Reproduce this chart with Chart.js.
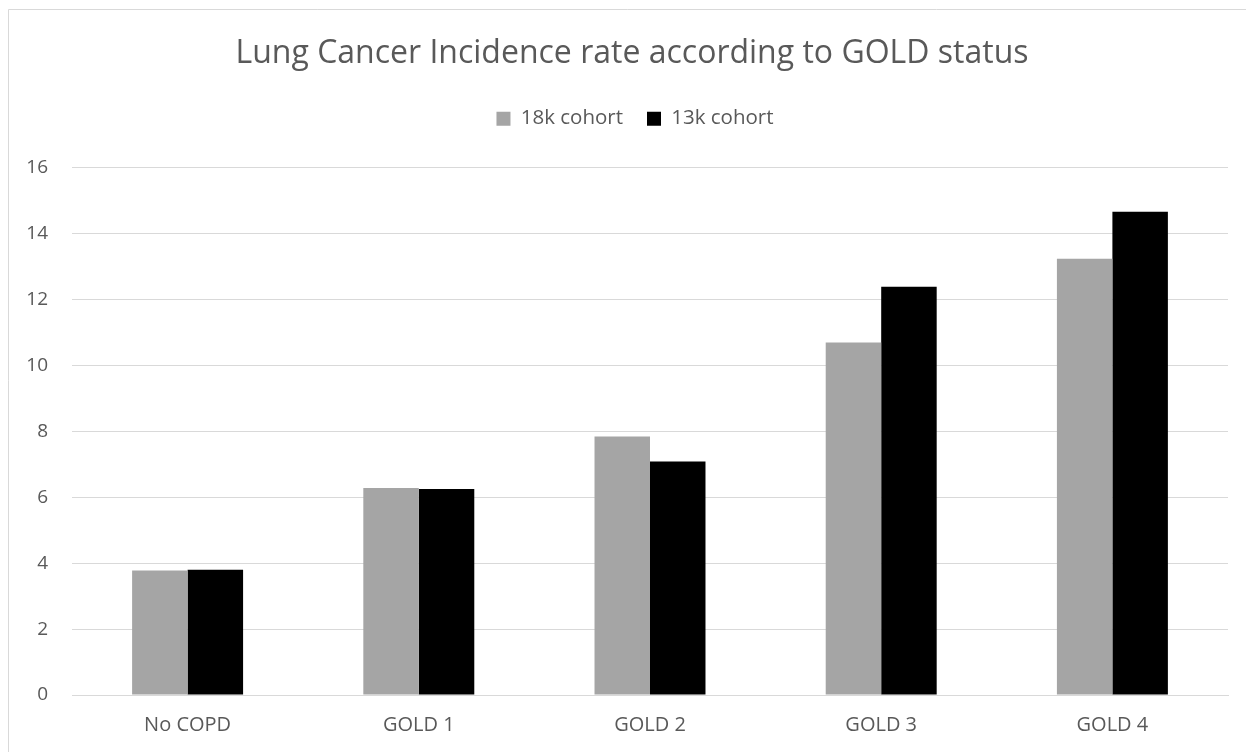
<!DOCTYPE html>
<html>
<head>
<meta charset="utf-8">
<script src="https://cdn.jsdelivr.net/npm/chart.js@4/dist/chart.umd.min.js"></script>
<style>
  html, body { margin: 0; padding: 0; background: #ffffff; }
  #wrap { position: relative; width: 1246px; height: 752px; }
  canvas { display: block; }
</style>
</head>
<body>
<div id="wrap"><canvas id="chart" width="1246" height="752"></canvas></div>
<script>
// Lung cancer incidence by GOLD stage, two cohorts
const categories = ['No COPD', 'GOLD 1', 'GOLD 2', 'GOLD 3', 'GOLD 4'];
const cohort18k = [3.78, 6.28, 7.85, 10.70, 13.24];
const cohort13k = [3.80, 6.25, 7.09, 12.39, 14.67];
const yTicks = [0, 2, 4, 6, 8, 10, 12, 14, 16];

const TEXT = '#595959';
const GRID = '#d9d9d9';
const FONT = "'Open Sans', 'DejaVu Sans', sans-serif";

// thin frame along the top and left edges of the chart
const framePlugin = {
  id: 'frame',
  beforeDraw(chart) {
    const ctx = chart.ctx;
    ctx.save();
    ctx.fillStyle = '#ffffff';
    ctx.fillRect(0, 0, chart.width, chart.height);
    ctx.strokeStyle = GRID;
    ctx.lineWidth = 1;
    ctx.beginPath();
    ctx.moveTo(8.5, chart.height);
    ctx.lineTo(8.5, 9.5);
    ctx.lineTo(chart.width, 9.5);
    ctx.stroke();
    ctx.restore();
  }
};

// centre the title and legend on the whole chart frame rather than the padded box
const headerShift = {
  id: 'headerShift',
  afterLayout(chart) {
    const shiftBox = (box, dx) => {
      if (!box) return;
      box.left += dx;
      box.right += dx;
      if (box.legendHitBoxes) box.legendHitBoxes.forEach(h => { h.left += dx; });
    };
    shiftBox(chart.titleBlock, 14);
    shiftBox(chart.legend, 17);
  }
};

new Chart(document.getElementById('chart'), {
  type: 'bar',
  data: {
    labels: categories,
    datasets: [
      { label: '18k cohort', data: cohort18k, backgroundColor: '#a5a5a5', borderWidth: 0 },
      { label: '13k cohort', data: cohort13k, backgroundColor: '#000000', borderWidth: 0 }
    ]
  },
  options: {
    responsive: false,
    animation: false,
    layout: { padding: { left: 8, right: 18, top: 0, bottom: 0 } },
    datasets: { bar: { barPercentage: 1.0, categoryPercentage: 0.48 } },
    plugins: {
      title: {
        display: true,
        text: 'Lung Cancer Incidence rate according to GOLD status',
        color: TEXT,
        font: { family: FONT, size: 32, weight: 'normal', lineHeight: 1.2 },
        padding: { top: 35, bottom: 11 }
      },
      legend: {
        display: true,
        position: 'top',
        labels: {
          color: TEXT,
          font: { family: FONT, size: 20.5 },
          boxWidth: 14,
          boxHeight: 14,
          padding: 24
        }
      },
      tooltip: { enabled: false }
    },
    scales: {
      x: {
        grid: { display: false, drawTicks: false },
        border: { display: true, color: GRID, width: 1 },
        ticks: { color: TEXT, font: { family: FONT, size: 20 }, padding: 18 },
        afterFit(s) { s.height = 57; }
      },
      spacer: {
        type: 'linear',
        position: 'top',
        display: true,
        grid: { display: false, drawTicks: false },
        border: { display: false },
        ticks: { display: false },
        afterFit(s) { s.height = 29; }
      },
      y: {
        min: 0,
        max: 16,
        grid: { color: GRID, lineWidth: 1, drawTicks: false },
        border: { display: false },
        afterBuildTicks(s) { s.ticks = yTicks.map(v => ({ value: v })); },
        ticks: { color: TEXT, font: { family: FONT, size: 19 }, padding: 24 },
        afterFit(s) { s.width = 64; }
      }
    }
  },
  plugins: [framePlugin, headerShift]
});
</script>
</body>
</html>
